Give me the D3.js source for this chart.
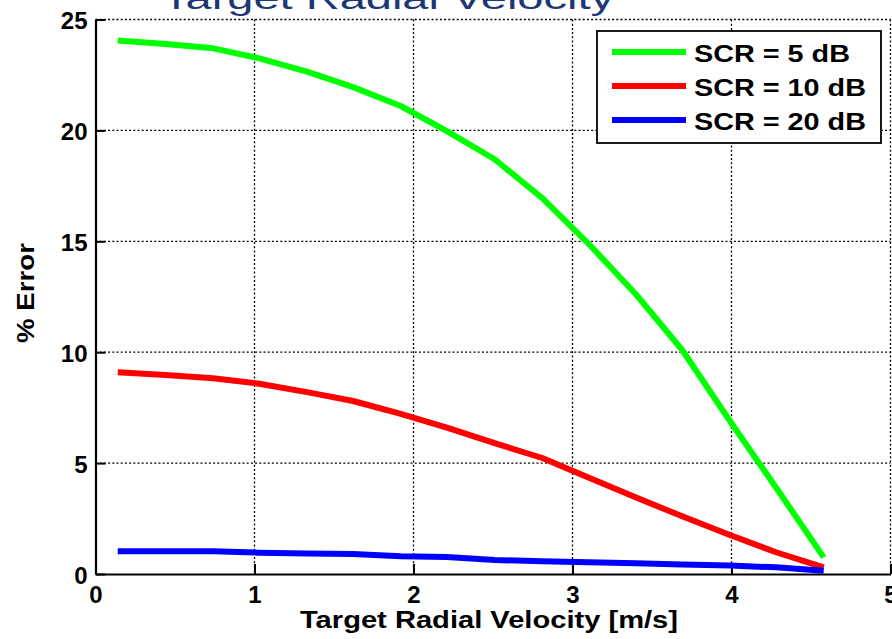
<!DOCTYPE html>
<html>
<head>
<meta charset="utf-8">
<script src="https://cdn.jsdelivr.net/npm/d3@7"></script>
<style>
  html, body { margin: 0; padding: 0; background: #fff; }
  svg { display: block; }
  text { font-family: "Liberation Sans", Arial, sans-serif; }
</style>
</head>
<body>
<svg id="chart" width="892" height="639"></svg>
<script>
// ---- data ----
const velocity = [0.14, 0.44, 0.74, 1.03, 1.33, 1.62, 1.92, 2.21, 2.51, 2.81, 3.10, 3.40, 3.69, 3.99, 4.28, 4.58];
const scr5  = [24.05, 23.9, 23.7, 23.25, 22.65, 21.95, 21.1, 19.97, 18.7, 16.95, 14.9, 12.6, 10.1, 6.9, 3.9, 0.75];
const scr10 = [9.1, 8.97, 8.83, 8.58, 8.2, 7.8, 7.22, 6.6, 5.9, 5.23, 4.35, 3.45, 2.6, 1.76, 0.98, 0.3];
const scr20 = [1.03, 1.03, 1.03, 0.96, 0.92, 0.9, 0.8, 0.77, 0.63, 0.58, 0.53, 0.48, 0.43, 0.38, 0.3, 0.15];
const seriesNames = ["SCR = 5 dB", "SCR = 10 dB", "SCR = 20 dB"];
const seriesColors = ["#00ff00", "#ff0000", "#0000ff"];
const xTicks = [0, 1, 2, 3, 4, 5];
const yTicks = [0, 5, 10, 15, 20, 25];
const titleText = "Target Radial Velocity";
const xLabel = "Target Radial Velocity [m/s]";
const yLabel = "% Error";

const series = [scr5, scr10, scr20];

// ---- layout ----
const L = 95.5, R = 890.5, T = 19.5, B = 574;
const svg = d3.select("#chart");
const x = d3.scaleLinear().domain([0, 5]).range([L, R]);
const y = d3.scaleLinear().domain([0, 25]).range([B, T]);

// title (partially cut off at top, as in the reference)
svg.append("text")
  .attr("x", 162).attr("y", 9)
  .attr("font-size", 31)
  .attr("fill", "#1c3775")
  .attr("textLength", 452).attr("lengthAdjust", "spacingAndGlyphs")
  .text(titleText);

// grid
const grid = svg.append("g").attr("stroke", "#000").attr("stroke-width", 1.3)
  .attr("stroke-dasharray", "2,2.2").attr("fill", "none");
xTicks.filter(d => d > 0).forEach(d => {
  grid.append("line").attr("x1", x(d)).attr("x2", x(d)).attr("y1", T).attr("y2", B);
});
yTicks.filter(d => d > 0).forEach(d => {
  grid.append("line").attr("x1", L).attr("x2", R).attr("y1", y(d)).attr("y2", y(d));
});

// axes (solid left & bottom with inward ticks)
const xAxis = d3.axisBottom(x).tickValues(xTicks).tickSizeInner(-10).tickSizeOuter(0).tickFormat(d3.format("d"));
const yAxis = d3.axisLeft(y).tickValues(yTicks).tickSizeInner(-10).tickSizeOuter(0).tickFormat(d3.format("d"));

const gx = svg.append("g").attr("transform", `translate(0,${B})`).call(xAxis);
const gy = svg.append("g").attr("transform", `translate(${L},0)`).call(yAxis);
[gx, gy].forEach(g => {
  g.select(".domain").attr("stroke", "#000").attr("stroke-width", 2.2);
  g.selectAll(".tick line").attr("stroke", "#000").attr("stroke-width", 2);
  g.selectAll(".tick text")
    .attr("font-family", "Liberation Sans, Arial, sans-serif")
    .attr("font-weight", "bold")
    .attr("font-size", 24)
    .attr("fill", "#000");
});
gx.selectAll(".tick text").attr("dy", null).attr("y", 29).attr("text-anchor", "middle");
gy.selectAll(".tick text").attr("dy", null).attr("x", -8).attr("y", 9).attr("text-anchor", "end");

// axis labels
svg.append("text")
  .attr("x", 300).attr("y", 628)
  .attr("font-size", 23).attr("font-weight", "bold").attr("fill", "#000")
  .attr("textLength", 378).attr("lengthAdjust", "spacingAndGlyphs")
  .text(xLabel);
svg.append("text")
  .attr("transform", `translate(34,343) rotate(-90)`)
  .attr("font-size", 23).attr("font-weight", "bold").attr("fill", "#000")
  .attr("textLength", 100).attr("lengthAdjust", "spacingAndGlyphs")
  .text(yLabel);

// lines
svg.append("clipPath").attr("id", "plotclip")
  .append("rect").attr("x", L).attr("y", T - 5).attr("width", R - L + 5).attr("height", B - T + 5);
const line = d3.line().x((d, i) => x(velocity[i])).y(d => y(d));
series.forEach((s, k) => {
  svg.append("path")
    .datum(s)
    .attr("clip-path", "url(#plotclip)")
    .attr("d", line)
    .attr("fill", "none")
    .attr("stroke", seriesColors[k])
    .attr("stroke-width", 6)
    .attr("stroke-linejoin", "round");
});

// legend
const lg = svg.append("g");
lg.append("rect").attr("x", 597).attr("y", 31).attr("width", 284).attr("height", 112)
  .attr("fill", "#fff").attr("stroke", "#000").attr("stroke-width", 1.8);
const legendWidths = [156, 172, 172];
seriesNames.forEach((name, k) => {
  const cy = 52 + k * 34;
  lg.append("line").attr("x1", 612).attr("x2", 686).attr("y1", cy).attr("y2", cy)
    .attr("stroke", seriesColors[k]).attr("stroke-width", 6);
  lg.append("text").attr("x", 694).attr("y", cy + 10)
    .attr("font-size", 24).attr("font-weight", "bold").attr("fill", "#000")
    .attr("textLength", legendWidths[k]).attr("lengthAdjust", "spacingAndGlyphs")
    .text(name);
});
</script>
</body>
</html>
